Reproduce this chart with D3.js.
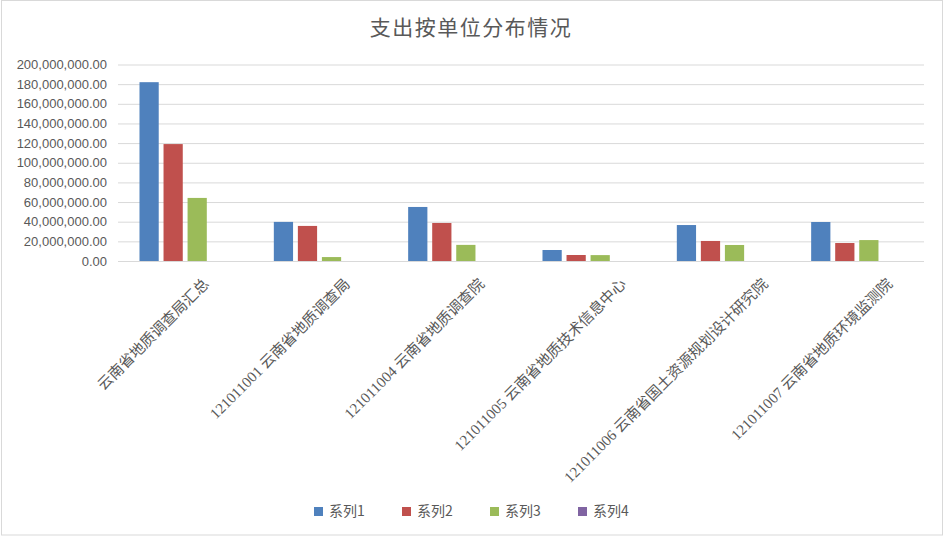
<!DOCTYPE html>
<html>
  <head>
    <meta charset="utf-8">
    <title>支出按单位分布情况</title>
    <script src="https://d3js.org/d3.v7.min.js"></script>
    <style>
      body { margin: 0; background: #fff; }
    </style>
  </head>
  <body>
    <script>
      var width = 944;
      var height = 536;

      // データ
      var categories = [
        "云南省地质调查局汇总",
        "121011001 云南省地质调查局",
        "121011004 云南省地质调查院",
        "121011005 云南省地质技术信息中心",
        "121011006 云南省国土资源规划设计研究院",
        "121011007 云南省地质环境监测院"
      ];
      var seriesNames = ["系列1", "系列2", "系列3", "系列4"];
      var series1 = [182000000, 39800000, 55000000, 11200000, 36600000, 39700000];
      var series2 = [119000000, 35700000, 38700000, 6100000, 20400000, 18300000];
      var series3 = [64200000, 4000000, 16400000, 6000000, 16300000, 21300000];
      var series4 = [0, 0, 0, 0, 0, 0];
      var yTicks = [0, 20000000, 40000000, 60000000, 80000000, 100000000,
                    120000000, 140000000, 160000000, 180000000, 200000000];
      var colors = ["#4f81bd", "#c0504d", "#9bbb59", "#8064a2"];

      var allSeries = [series1, series2, series3, series4];
      var rows = categories.map(function (c, i) {
        return { name: c, values: allSeries.map(function (s) { return s[i]; }) };
      });

      var plot = { left: 118, right: 924, top: 64.5, bottom: 261 };

      var svg = d3.select("body").append("svg")
        .attr("width", width).attr("height", height);

      svg.append("rect")
        .attr("x", 1.5).attr("y", 0.5)
        .attr("width", width - 3).attr("height", height - 1.5)
        .attr("fill", "#fff").attr("stroke", "#d9d9d9");

      // タイトル
      svg.append("text")
        .attr("x", 471).attr("y", 35)
        .attr("text-anchor", "middle")
        .attr("font-family", "'Noto Sans CJK SC', sans-serif")
        .attr("font-size", 21)
        .attr("letter-spacing", 1.5)
        .attr("fill", "#595959")
        .text("支出按单位分布情况");

      var x0 = d3.scaleBand()
        .domain(categories)
        .range([plot.left, plot.right])
        .paddingInner(0.32)
        .paddingOuter(0.16);

      var x1 = d3.scaleBand()
        .domain(d3.range(seriesNames.length))
        .range([0, x0.bandwidth()])
        .paddingInner(0.2);

      var yScale = d3.scaleLinear()
        .domain([0, 200000000])
        .range([plot.bottom, plot.top]);

      // グリッド線
      var axisy = d3.axisLeft(yScale)
        .tickValues(yTicks)
        .tickSize(-(plot.right - plot.left))
        .tickPadding(11)
        .tickFormat(d3.format(",.2f"));

      var gy = svg.append("g")
        .attr("transform", "translate(" + plot.left + ",0)")
        .call(axisy);
      gy.select(".domain").remove();
      gy.selectAll(".tick line").attr("stroke", "#d9d9d9");
      gy.selectAll(".tick text")
        .attr("fill", "#595959")
        .attr("font-family", "'Liberation Sans', Arial, sans-serif")
        .attr("font-size", 13);

      // 棒
      svg.append("g")
        .selectAll("g")
        .data(rows)
        .enter()
        .append("g")
        .attr("transform", function (d) { return "translate(" + x0(d.name) + ",0)"; })
        .selectAll("rect")
        .data(function (d) { return d.values; })
        .enter()
        .append("rect")
        .attr("x", function (d, i) { return x1(i); })
        .attr("y", function (d) { return yScale(d); })
        .attr("width", x1.bandwidth())
        .attr("height", function (d) { return yScale(0) - yScale(d); })
        .attr("fill", function (d, i) { return colors[i]; });

      // X軸ラベル（-45度）
      var labels = svg.append("g")
        .selectAll("text")
        .data(categories)
        .enter()
        .append("text")
        .attr("text-anchor", "end")
        .attr("font-family", "'Liberation Serif', 'Noto Sans CJK SC', serif")
        .attr("font-size", 15)
        .attr("fill", "#595959")
        .text(function (d) { return d; });

      labels.each(function (d) {
        var len = this.getComputedTextLength();
        var cx = x0(d) + x0.bandwidth() / 2 + 0.165 * len;
        d3.select(this).attr("transform", "translate(" + cx + "," + 285 + ") rotate(-45)");
      });

      // 凡例
      var legend = svg.append("g")
        .selectAll("g")
        .data(seriesNames)
        .enter()
        .append("g")
        .attr("transform", function (d, i) { return "translate(" + (314 + i * 88) + ",507)"; });

      legend.append("rect")
        .attr("width", 9).attr("height", 9)
        .attr("fill", function (d, i) { return colors[i]; });

      legend.append("text")
        .attr("x", 15).attr("y", 9)
        .attr("font-family", "'Noto Sans CJK SC', sans-serif")
        .attr("font-size", 14)
        .attr("fill", "#595959")
        .text(function (d) { return d; });
    </script>
  </body>
</html>
